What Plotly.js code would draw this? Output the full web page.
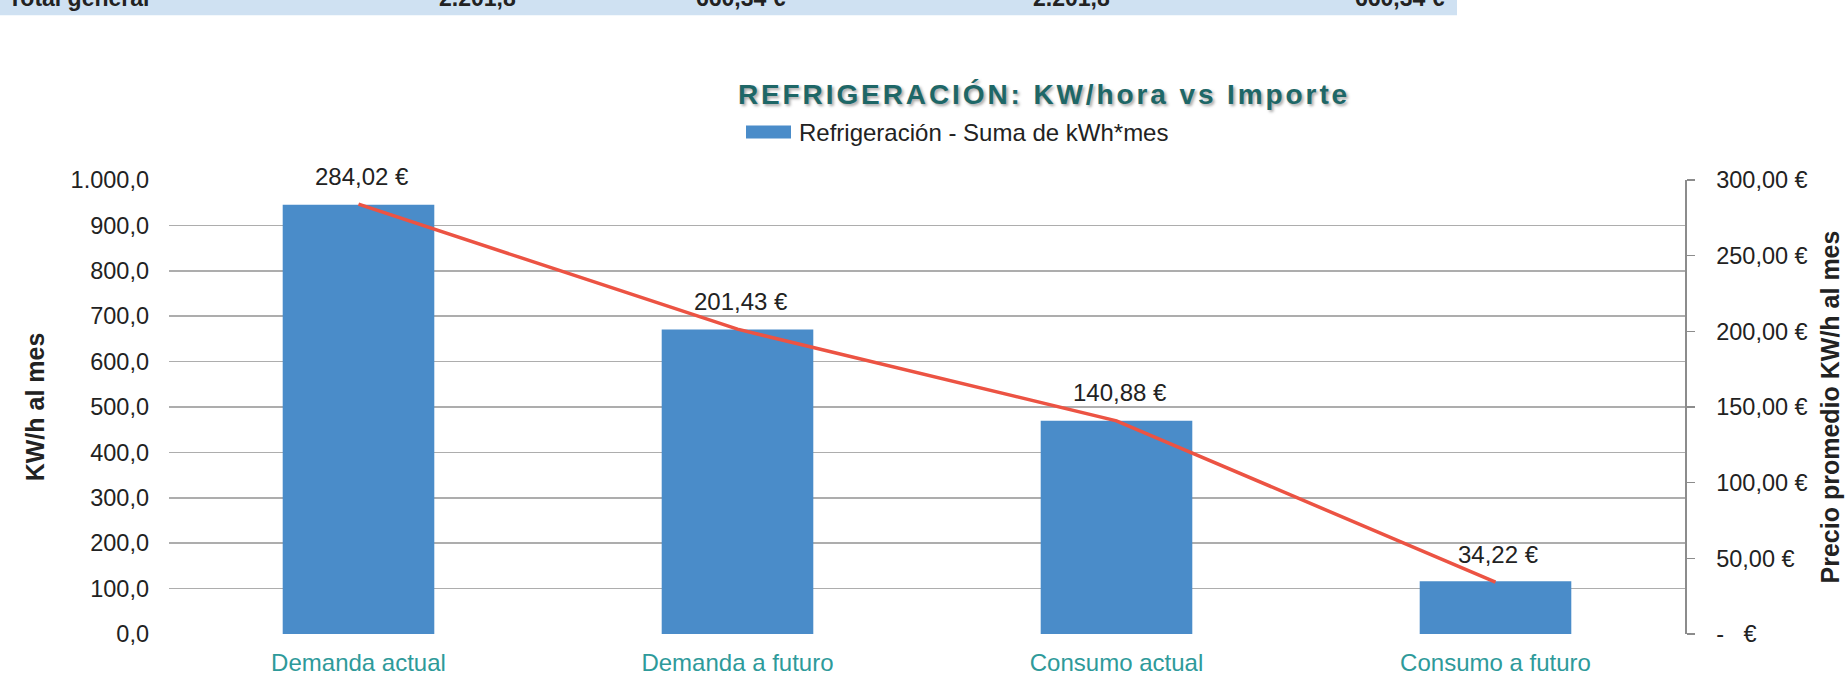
<!DOCTYPE html>
<html>
<head>
<meta charset="utf-8">
<script src="https://cdn.plot.ly/plotly-3.0.1.min.js"></script>
<style>
html,body{margin:0;padding:0;background:#fff;}
#chart{width:1845px;height:676px;}
.gtitle{letter-spacing:2.9px;}
</style>
</head>
<body>
<div id="chart"></div>
<script>
// ---- data ----
const categories = ["Demanda actual", "Demanda a futuro", "Consumo actual", "Consumo a futuro"];
const kwhMes = [945.5, 670.5, 469.5, 116.3];
const precio = [284.02, 201.43, 140.88, 34.22];
const precioLabels = ["284,02 €", "201,43 €", "140,88 €", "34,22 €"];
const rightTickVals = [0, 50, 100, 150, 200, 250, 300];
const rightTickText = ["-   €", "50,00 €", "100,00 €", "150,00 €", "200,00 €", "250,00 €", "300,00 €"];
const tableRow = ["Total general", "2.201,8", "660,34 €", "2.201,8", "660,34 €"];

// ---- geometry helpers (layout only) ----
const W = 1845, H = 676;
const L = 169, R = 1685, T = 179.5, B = 634.5;
const px = v => (v - L) / (R - L);
const py = v => (B - v) / (B - T);

const FONT = "Liberation Sans, Arial, sans-serif";
const teal = "#2e9a9a";

const bars = {
  type: "bar", x: categories, y: kwhMes, name: "Refrigeración - Suma de kWh*mes",
  marker: {color: "#4a8cc9"}, showlegend: false, hoverinfo: "x+y"
};
const line = {
  type: "scatter", mode: "lines", x: categories, y: precio, yaxis: "y2",
  line: {color: "#ec5343", width: 3.5}, showlegend: false, name: "Precio"
};

const annotations = precio.map((v, i) => ({
  x: categories[i], y: v, xref: "x", yref: "y2", text: precioLabels[i],
  showarrow: false, yanchor: "middle", yshift: 28, xshift: 3,
  font: {family: FONT, size: 24, color: "#222"}
}));

// legend text
annotations.push({
  xref: "paper", yref: "paper", x: px(797), y: py(132), xanchor: "left", yanchor: "middle",
  text: "Refrigeración - Suma de kWh*mes", showarrow: false,
  font: {family: FONT, size: 24, color: "#222"}
});

// top table row (only its lower part is in view, as in the source)
const rowRight = [null, 518, 788, 1112, 1447];
tableRow.forEach((t, i) => {
  annotations.push({
    xref: "paper", yref: "paper",
    x: i === 0 ? px(6) : px(rowRight[i]),
    xanchor: i === 0 ? "left" : "right",
    y: py(-3), yanchor: "middle", text: "<b>" + t + "</b>", showarrow: false,
    font: {family: FONT, size: 23, color: "#222"}
  });
});

const shapes = [
  {type: "rect", xref: "paper", yref: "paper", x0: px(0), x1: px(1457), y0: py(14.5), y1: py(-10),
   fillcolor: "#cfe1f2", line: {width: 0}, layer: "below"},
  {type: "rect", xref: "paper", yref: "paper", x0: px(746), x1: px(791), y0: py(138), y1: py(125),
   fillcolor: "#4a8cc9", line: {width: 0}}
];

const layout = {
  width: W, height: H,
  margin: {l: L, r: W - R, t: T, b: H - B, pad: 0},
  paper_bgcolor: "#fff", plot_bgcolor: "#fff",
  separators: ",.",
  font: {family: FONT, size: 24, color: "#222"},
  title: {
    text: "<b>REFRIGERACIÓN: KW/hora vs Importe</b>",
    x: 1044 / W, xanchor: "center",
    y: 1 - 94 / H, yanchor: "middle", yref: "container", xref: "container",
    font: {family: FONT, size: 28, color: "#1e6767", shadow: "2px 2px 3px rgba(0,0,0,0.35)"}
  },
  bargap: 0.6,
  showlegend: false,
  xaxis: {
    type: "category", showgrid: false, showline: false, ticks: "", zeroline: false,
    tickfont: {family: FONT, size: 24, color: teal}, ticklabelstandoff: 12
  },
  yaxis: {
    range: [0, 1000], dtick: 100, tick0: 0, tickformat: ",.1f",
    showgrid: true, gridcolor: "#adadad", gridwidth: 1.5, zeroline: false,
    showline: false, ticks: "", ticklabelstandoff: 19,
    tickfont: {family: FONT, size: 23.5, color: "#222"},
    title: {text: "<b>KW/h al mes</b>", font: {family: FONT, size: 25, color: "#222"}, standoff: 18},
    automargin: false
  },
  yaxis2: {
    overlaying: "y", side: "right", range: [0, 300],
    tickvals: rightTickVals, ticktext: rightTickText,
    showgrid: false, zeroline: false, showline: true, linecolor: "#8c8c8c", linewidth: 1.5,
    ticks: "outside", ticklen: 8, tickcolor: "#8c8c8c", tickwidth: 1.5, ticklabelstandoff: 17,
    tickfont: {family: FONT, size: 23.5, color: "#222"},
    title: {text: "<b>Precio promedio KW/h al mes</b>", font: {family: FONT, size: 25, color: "#222"}, standoff: 15},
    automargin: false
  },
  annotations: annotations,
  shapes: shapes
};

Plotly.newPlot("chart", [bars, line], layout, {displayModeBar: false, staticPlot: true});
</script>
</body>
</html>
